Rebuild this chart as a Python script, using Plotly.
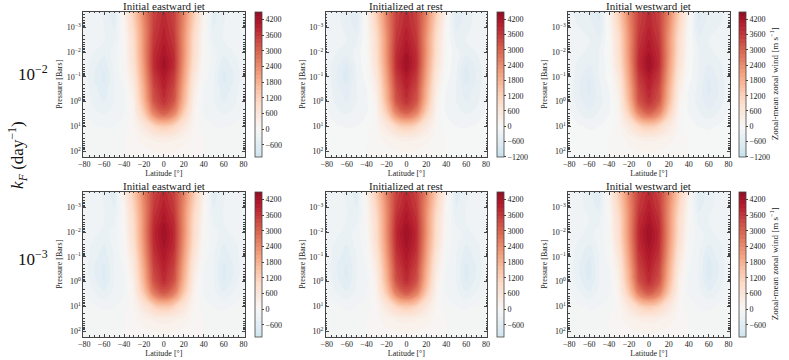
import plotly.graph_objects as go

# grid: latitude [deg] and log10 pressure [bar]
lat = [-90, -80, -70, -60, -50, -40, -30, -20, -10, 0, 10, 20, 30, 40, 50, 60, 70, 80, 90]
log_p = [-3.8, -3.0, -2.5, -2.0, -1.5, -1.0, -0.5, 0.0, 0.5, 1.0, 1.5, 2.0, 2.4]

lat_ticks = [-80, -60, -40, -20, 0, 20, 40, 60, 80]
p_ticks = [-3, -2, -1, 0, 1, 2]
p_ticktext = ["10<sup>−3</sup>", "10<sup>−2</sup>", "10<sup>−1</sup>",
              "10<sup>0</sup>", "10<sup>1</sup>", "10<sup>2</sup>"]
cb_ticks_600 = [-600, 0, 600, 1200, 1800, 2400, 3000, 3600, 4200]
cb_ticks_1200 = [-1200, -600, 0, 600, 1200, 1800, 2400, 3000, 3600, 4200]

col_titles = ["Initial eastward jet", "Initialized at rest", "Initial westward jet"]
row_labels = ["10<sup>−2</sup>", "10<sup>−3</sup>"]

# zonal-mean zonal wind [m/s], rows follow log_p, columns follow lat
u_east_2 = [
    [-250, -250, -250, -350, -550, 250, 1400, 2600, 3500, 3750, 3500, 2600, 1400, 250, -550, -350, -250, -250, -250],
    [-200, -250, -250, -300, -450, 100, 1100, 2400, 3550, 3900, 3550, 2400, 1100, 100, -450, -300, -250, -250, -200],
    [-150, -200, -250, -300, -350, 50, 950, 2350, 3650, 4000, 3650, 2350, 950, 50, -350, -300, -250, -200, -150],
    [-150, -200, -300, -400, -250, 50, 900, 2350, 3750, 4150, 3750, 2350, 900, 50, -250, -400, -300, -200, -150],
    [-150, -200, -400, -550, -250, 0, 800, 2250, 3800, 4300, 3800, 2250, 800, 0, -250, -550, -400, -200, -150],
    [-150, -200, -450, -650, -300, -50, 600, 2100, 3600, 4100, 3600, 2100, 600, -50, -300, -650, -450, -200, -150],
    [-120, -180, -400, -550, -300, -150, 450, 1900, 3400, 3900, 3400, 1900, 450, -150, -300, -550, -400, -180, -120],
    [-100, -150, -350, -450, -300, -200, 300, 1700, 3200, 3700, 3200, 1700, 300, -200, -300, -450, -350, -150, -100],
    [-80, -120, -250, -300, -250, -150, 200, 1200, 2500, 3000, 2500, 1200, 200, -150, -250, -300, -250, -120, -80],
    [-50, -80, -130, -160, -150, -80, 150, 550, 1050, 1300, 1050, 550, 150, -80, -150, -160, -130, -80, -50],
    [-30, -40, -60, -80, -60, 0, 100, 220, 320, 360, 320, 220, 100, 0, -60, -80, -60, -40, -30],
    [-20, -30, -40, -50, -40, 0, 50, 110, 150, 170, 150, 110, 50, 0, -40, -50, -40, -30, -20],
    [-10, -20, -30, -30, -30, 0, 30, 60, 80, 90, 80, 60, 30, 0, -30, -30, -30, -20, -10],
]
u_rest_2 = [
    [-300, -300, -250, -400, -650, 200, 1350, 2600, 3500, 3750, 3500, 2600, 1350, 200, -650, -400, -250, -300, -300],
    [-250, -250, -250, -350, -500, 50, 1050, 2400, 3550, 3900, 3550, 2400, 1050, 50, -500, -350, -250, -250, -250],
    [-200, -200, -250, -300, -350, 0, 900, 2300, 3650, 4050, 3650, 2300, 900, 0, -350, -300, -250, -200, -200],
    [-150, -200, -300, -400, -250, 0, 850, 2300, 3750, 4200, 3750, 2300, 850, 0, -250, -400, -300, -200, -150],
    [-150, -200, -400, -600, -250, -50, 750, 2200, 3800, 4350, 3800, 2200, 750, -50, -250, -600, -400, -200, -150],
    [-150, -200, -450, -700, -300, -80, 550, 2050, 3600, 4100, 3600, 2050, 550, -80, -300, -700, -450, -200, -150],
    [-120, -180, -400, -550, -300, -150, 400, 1850, 3400, 3900, 3400, 1850, 400, -150, -300, -550, -400, -180, -120],
    [-100, -150, -350, -450, -300, -200, 250, 1650, 3200, 3700, 3200, 1650, 250, -200, -300, -450, -350, -150, -100],
    [-80, -120, -250, -300, -250, -150, 150, 1150, 2450, 2950, 2450, 1150, 150, -150, -250, -300, -250, -120, -80],
    [-50, -80, -130, -160, -150, -80, 120, 500, 1000, 1250, 1000, 500, 120, -80, -150, -160, -130, -80, -50],
    [-30, -40, -60, -80, -60, 0, 90, 200, 300, 340, 300, 200, 90, 0, -60, -80, -60, -40, -30],
    [-20, -30, -40, -50, -40, 0, 50, 100, 140, 160, 140, 100, 50, 0, -40, -50, -40, -30, -20],
    [-10, -20, -30, -30, -30, 0, 30, 60, 80, 90, 80, 60, 30, 0, -30, -30, -30, -20, -10],
]
u_west_2 = [
    [-300, -300, -300, -450, -700, 200, 1350, 2600, 3500, 3750, 3500, 2600, 1350, 200, -700, -450, -300, -300, -300],
    [-250, -250, -300, -350, -550, 50, 1050, 2400, 3550, 3900, 3550, 2400, 1050, 50, -550, -350, -300, -250, -250],
    [-200, -200, -250, -300, -400, 0, 900, 2300, 3650, 4050, 3650, 2300, 900, 0, -400, -300, -250, -200, -200],
    [-150, -200, -250, -350, -300, 0, 850, 2300, 3750, 4200, 3750, 2300, 850, 0, -300, -350, -250, -200, -150],
    [-150, -200, -350, -450, -300, -50, 750, 2200, 3800, 4350, 3800, 2200, 750, -50, -300, -450, -350, -200, -150],
    [-150, -200, -400, -600, -300, -80, 550, 2050, 3600, 4100, 3600, 2050, 550, -80, -300, -600, -400, -200, -150],
    [-120, -200, -450, -650, -350, -150, 400, 1850, 3400, 3900, 3400, 1850, 400, -150, -350, -650, -450, -200, -120],
    [-100, -180, -400, -550, -350, -200, 250, 1650, 3200, 3700, 3200, 1650, 250, -200, -350, -550, -400, -180, -100],
    [-80, -120, -280, -380, -280, -150, 150, 1150, 2450, 2950, 2450, 1150, 150, -150, -280, -380, -280, -120, -80],
    [-50, -80, -130, -180, -150, -80, 120, 500, 1000, 1250, 1000, 500, 120, -80, -150, -180, -130, -80, -50],
    [-30, -40, -60, -80, -60, 0, 90, 200, 300, 340, 300, 200, 90, 0, -60, -80, -60, -40, -30],
    [-20, -30, -40, -50, -40, 0, 50, 100, 140, 160, 140, 100, 50, 0, -40, -50, -40, -30, -20],
    [-10, -20, -30, -30, -30, 0, 30, 60, 80, 90, 80, 60, 30, 0, -30, -30, -30, -20, -10],
]
u_east_3 = [
    [-250, -250, -250, -350, -550, 300, 1450, 2650, 3500, 3750, 3500, 2650, 1450, 300, -550, -350, -250, -250, -250],
    [-200, -250, -250, -300, -450, 150, 1150, 2450, 3600, 4000, 3600, 2450, 1150, 150, -450, -300, -250, -250, -200],
    [-150, -200, -250, -300, -350, 100, 1000, 2400, 3750, 4150, 3750, 2400, 1000, 100, -350, -300, -250, -200, -150],
    [-150, -200, -250, -350, -250, 50, 950, 2400, 3850, 4350, 3850, 2400, 950, 50, -250, -350, -250, -200, -150],
    [-150, -200, -350, -450, -250, 0, 850, 2300, 3800, 4250, 3800, 2300, 850, 0, -250, -450, -350, -200, -150],
    [-150, -200, -400, -550, -300, -50, 650, 2150, 3650, 4100, 3650, 2150, 650, -50, -300, -550, -400, -200, -150],
    [-120, -200, -450, -650, -300, -150, 500, 1950, 3450, 3950, 3450, 1950, 500, -150, -300, -650, -450, -200, -120],
    [-100, -180, -400, -600, -300, -200, 350, 1750, 3250, 3750, 3250, 1750, 350, -200, -300, -600, -400, -180, -100],
    [-80, -120, -280, -400, -250, -150, 220, 1300, 2600, 3100, 2600, 1300, 220, -150, -250, -400, -280, -120, -80],
    [-50, -80, -130, -180, -150, -80, 150, 600, 1150, 1400, 1150, 600, 150, -80, -150, -180, -130, -80, -50],
    [-30, -40, -60, -80, -60, 0, 100, 240, 340, 380, 340, 240, 100, 0, -60, -80, -60, -40, -30],
    [-20, -30, -40, -50, -40, 0, 50, 110, 150, 170, 150, 110, 50, 0, -40, -50, -40, -30, -20],
    [-10, -20, -30, -30, -30, 0, 30, 60, 80, 90, 80, 60, 30, 0, -30, -30, -30, -20, -10],
]
u_rest_3 = [
    [-250, -250, -250, -350, -550, 250, 1400, 2600, 3500, 3750, 3500, 2600, 1400, 250, -550, -350, -250, -250, -250],
    [-200, -250, -250, -300, -450, 100, 1100, 2400, 3600, 4000, 3600, 2400, 1100, 100, -450, -300, -250, -250, -200],
    [-150, -200, -250, -300, -350, 50, 950, 2350, 3750, 4150, 3750, 2350, 950, 50, -350, -300, -250, -200, -150],
    [-150, -200, -250, -350, -250, 0, 900, 2350, 3850, 4350, 3850, 2350, 900, 0, -250, -350, -250, -200, -150],
    [-150, -200, -350, -450, -250, -50, 800, 2250, 3800, 4250, 3800, 2250, 800, -50, -250, -450, -350, -200, -150],
    [-150, -200, -400, -550, -300, -80, 600, 2100, 3650, 4100, 3650, 2100, 600, -80, -300, -550, -400, -200, -150],
    [-120, -200, -450, -650, -300, -150, 450, 1900, 3450, 3950, 3450, 1900, 450, -150, -300, -650, -450, -200, -120],
    [-100, -180, -400, -600, -300, -200, 300, 1700, 3250, 3750, 3250, 1700, 300, -200, -300, -600, -400, -180, -100],
    [-80, -120, -280, -400, -250, -150, 200, 1250, 2550, 3050, 2550, 1250, 200, -150, -250, -400, -280, -120, -80],
    [-50, -80, -130, -180, -150, -80, 130, 560, 1100, 1350, 1100, 560, 130, -80, -150, -180, -130, -80, -50],
    [-30, -40, -60, -80, -60, 0, 100, 230, 330, 370, 330, 230, 100, 0, -60, -80, -60, -40, -30],
    [-20, -30, -40, -50, -40, 0, 50, 110, 150, 170, 150, 110, 50, 0, -40, -50, -40, -30, -20],
    [-10, -20, -30, -30, -30, 0, 30, 60, 80, 90, 80, 60, 30, 0, -30, -30, -30, -20, -10],
]
u_west_3 = [
    [-250, -300, -300, -400, -600, 250, 1400, 2600, 3500, 3750, 3500, 2600, 1400, 250, -600, -400, -300, -300, -250],
    [-200, -250, -250, -350, -500, 100, 1100, 2400, 3600, 4000, 3600, 2400, 1100, 100, -500, -350, -250, -250, -200],
    [-150, -200, -250, -300, -350, 50, 950, 2350, 3750, 4150, 3750, 2350, 950, 50, -350, -300, -250, -200, -150],
    [-150, -200, -250, -350, -250, 0, 900, 2350, 3850, 4350, 3850, 2350, 900, 0, -250, -350, -250, -200, -150],
    [-150, -200, -350, -450, -250, -50, 800, 2250, 3800, 4250, 3800, 2250, 800, -50, -250, -450, -350, -200, -150],
    [-150, -200, -400, -600, -300, -80, 600, 2100, 3650, 4100, 3650, 2100, 600, -80, -300, -600, -400, -200, -150],
    [-120, -200, -450, -700, -300, -150, 450, 1900, 3450, 3950, 3450, 1900, 450, -150, -300, -700, -450, -200, -120],
    [-100, -180, -400, -600, -300, -200, 300, 1700, 3250, 3750, 3250, 1700, 300, -200, -300, -600, -400, -180, -100],
    [-80, -120, -280, -400, -250, -150, 200, 1250, 2550, 3050, 2550, 1250, 200, -150, -250, -400, -280, -120, -80],
    [-50, -80, -130, -180, -150, -80, 130, 560, 1100, 1350, 1100, 560, 130, -80, -150, -180, -130, -80, -50],
    [-30, -40, -60, -80, -60, 0, 100, 230, 330, 370, 330, 230, 100, 0, -60, -80, -60, -40, -30],
    [-20, -30, -40, -50, -40, 0, 50, 110, 150, 170, 150, 110, 50, 0, -40, -50, -40, -30, -20],
    [-10, -20, -30, -30, -30, 0, 30, 60, 80, 90, 80, 60, 30, 0, -30, -30, -30, -20, -10],
]

panels = [[u_east_2, u_rest_2, u_west_2], [u_east_3, u_rest_3, u_west_3]]
level_start = [[-1050, -1200, -1200], [-1050, -1050, -1050]]
LEVEL_END = 4500

# matplotlib RdBu_r, normalised symmetrically about zero (-NORM..NORM)
RDBU_R = [[0.0, "#053061"], [0.1, "#2166ac"], [0.2, "#4393c3"], [0.3, "#92c5de"],
          [0.4, "#d1e5f0"], [0.5, "#f7f7f7"], [0.6, "#fddbc7"], [0.7, "#f4a582"],
          [0.8, "#d6604d"], [0.9, "#b2182b"], [1.0, "#67001f"]]
NORM = 5100


def rdbu_at(s):
    for (p0, c0), (p1, c1) in zip(RDBU_R[:-1], RDBU_R[1:]):
        if s <= p1:
            t = (s - p0) / (p1 - p0)
            a = [int(c0[i:i + 2], 16) for i in (1, 3, 5)]
            b = [int(c1[i:i + 2], 16) for i in (1, 3, 5)]
            return "rgb(%d,%d,%d)" % tuple(round(a[k] + t * (b[k] - a[k])) for k in range(3))
    return RDBU_R[-1][1]


def sub_scale(lo, hi, n=24):
    # the part of the symmetric scale that the colorbar shows
    out = []
    for i in range(n + 1):
        v = lo + (hi - lo) * i / n
        out.append([i / n, rdbu_at((v + NORM) / (2 * NORM))])
    return out


W, H = 789, 360
FONT = "Liberation Serif"
AXIS_COLOR = "#444444"
TXT = "#222222"
col_x = [(79, 242), (324, 487), (569, 732)]
cbar_x = [253, 497, 742]
row_y = [(12, 156.5), (192, 336.5)]

fig = go.Figure()
layout = {}
for r in range(2):
    for c in range(3):
        n = r * 3 + 1 + c
        sfx = "" if n == 1 else str(n)
        x0, x1 = col_x[c]
        y0, y1 = row_y[r]
        start = level_start[r][c]
        fig.add_trace(go.Contour(
            x=lat, y=log_p, z=panels[r][c],
            xaxis="x" + sfx, yaxis="y" + sfx,
            colorscale=sub_scale(start, LEVEL_END), zmin=start, zmax=LEVEL_END,
            contours=dict(start=start, end=LEVEL_END, size=150, coloring="fill", showlines=False),
            line=dict(width=0, smoothing=1.3),
            hoverinfo="skip",
            colorbar=dict(
                x=cbar_x[c] / W, xanchor="left", xpad=0,
                y=1 - (y0 + y1) / 2 / H, yanchor="middle", ypad=0,
                len=(y1 - y0) / H, lenmode="fraction",
                thickness=7, thicknessmode="pixels",
                outlinewidth=0.8, outlinecolor=AXIS_COLOR,
                tickvals=cb_ticks_1200 if start <= -1200 else cb_ticks_600,
                ticks="outside", ticklen=2, tickcolor=AXIS_COLOR,
                tickfont=dict(family=FONT, size=8, color=TXT),
            ),
        ))
        layout["xaxis" + sfx] = dict(
            domain=[x0 / W, x1 / W], anchor="y" + sfx, range=[-81, 81],
            tickvals=lat_ticks, ticks="inside", ticklen=3, tickcolor=AXIS_COLOR,
            minor=dict(dtick=5, ticks="inside", ticklen=1.5, tickcolor=AXIS_COLOR),
            mirror="allticks", showline=True, linecolor=AXIS_COLOR, linewidth=0.8,
            showgrid=False, zeroline=False,
            tickfont=dict(family=FONT, size=8, color=TXT),
            title=dict(text="Latitude [°]", font=dict(family=FONT, size=8, color=TXT), standoff=2),
        )
        layout["yaxis" + sfx] = dict(
            domain=[1 - y1 / H, 1 - y0 / H], anchor="x" + sfx, range=[2.22, -3.63],
            tickvals=p_ticks, ticktext=p_ticktext, ticks="inside", ticklen=3, tickcolor=AXIS_COLOR,
            minor=dict(tickmode="array",
                       tickvals=[e + m for e in range(-4, 3) for m in
                                 (0.301, 0.477, 0.602, 0.699, 0.778, 0.845, 0.903, 0.954)],
                       ticks="inside", ticklen=1.5, tickcolor=AXIS_COLOR),
            mirror="allticks", showline=True, linecolor=AXIS_COLOR, linewidth=0.8,
            showgrid=False, zeroline=False,
            tickfont=dict(family=FONT, size=8, color=TXT),
            title=dict(text="Pressure [Bars]", font=dict(family=FONT, size=8, color=TXT), standoff=2),
        )

annotations = []
for r in range(2):
    for c in range(3):
        x0, x1 = col_x[c]
        annotations.append(dict(
            text=col_titles[c], x=(x0 + x1) / 2 / W, y=1 - (row_y[r][0] - 6) / H,
            xref="paper", yref="paper", xanchor="center", yanchor="middle",
            showarrow=False, borderpad=0, font=dict(family=FONT, size=11, color=TXT),
        ))
    annotations.append(dict(
        text=row_labels[r], x=28 / W, y=1 - (73 if r == 0 else 258) / H,
        xref="paper", yref="paper", xanchor="center", yanchor="middle",
        showarrow=False, font=dict(family=FONT, size=17, color="#111"),
    ))
    # colorbar label of the right-hand column
    annotations.append(dict(
        text="Zonal-mean zonal wind [m s<sup>−1</sup>]", x=777 / W,
        y=1 - (row_y[r][0] + row_y[r][1]) / 2 / H,
        xref="paper", yref="paper", xanchor="center", yanchor="middle", textangle=-90,
        showarrow=False, font=dict(family=FONT, size=9, color=TXT),
    ))
annotations.append(dict(
    text="<i>k<sub>F</sub></i> (day<sup>−1</sup>)", x=12 / W, y=1 - 155 / H,
    xref="paper", yref="paper", xanchor="center", yanchor="middle", textangle=-90,
    showarrow=False, font=dict(family=FONT, size=17, color="#111"),
))

fig.update_layout(
    **layout,
    width=W, height=H,
    margin=dict(l=0, r=0, t=0, b=0),
    paper_bgcolor="white", plot_bgcolor="white",
    showlegend=False,
    annotations=annotations,
)

fig.write_html("out.html", config={"displayModeBar": False},
               post_script="document.body.style.margin = '0';")
